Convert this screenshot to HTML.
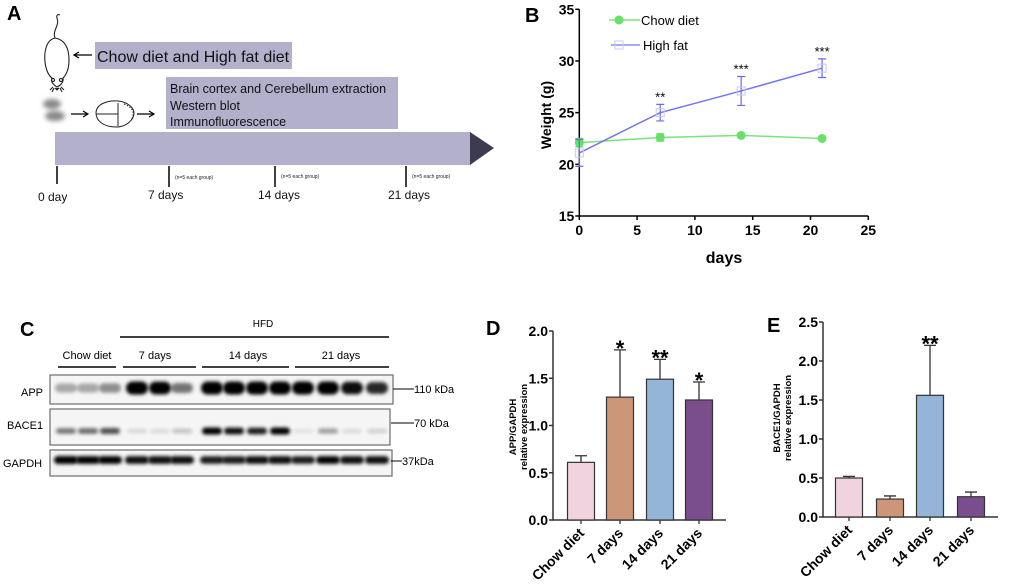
<!DOCTYPE html>
<html><head><meta charset="utf-8">
<style>
html,body{margin:0;padding:0;background:#fff;}
svg{display:block;font-family:"Liberation Sans",Arial,sans-serif;}
</style></head>
<body>
<svg id="fig" width="1020" height="586" viewBox="0 0 1020 586" xmlns="http://www.w3.org/2000/svg">
<defs>
<filter id="blur1" x="-50%" y="-80%" width="200%" height="260%"><feGaussianBlur stdDeviation="1.8"/></filter>
<filter id="blur2" x="-50%" y="-50%" width="200%" height="200%"><feGaussianBlur stdDeviation="2.5"/></filter>
</defs>

<!-- PANEL A -->
<g id="panelA">
<text x="7" y="20" font-size="20" font-weight="bold">A</text>
<g fill="none" stroke="#222" stroke-width="1.1">
<path d="M55,38 C52,30 60,26 57,18 C56,15 58,14 60,15"/>
<path d="M55,38 C46,40 44,52 45,62 C46,70 48,75 52,78 C50,82 55,86 57,87 C60,86 64,82 63,78 C67,74 69,68 69,60 C69,50 66,40 55,38Z"/>
<circle cx="53" cy="80" r="1.5"/><circle cx="61" cy="80" r="1.5"/>
<path d="M55,88 l2,2 l2,-2" fill="#222"/>
<path d="M53,87 l-3,3 M61,87 l3,3 M54,88 l-2,4 M60,88 l2,4"/>
</g>
<path d="M92,55 H75 M79,52 L74,55 L79,58" stroke="#000" stroke-width="1.3" fill="none"/>
<rect x="95" y="42" width="197" height="27" fill="#b3b0cc"/>
<text x="97" y="62" font-size="16" fill="#111">Chow diet and High fat  diet</text>
<g fill="#888" filter="url(#blur2)">
<ellipse cx="52" cy="104" rx="9" ry="5"/><ellipse cx="55" cy="116" rx="10" ry="5"/>
</g>
<path d="M71,114 H87 M83,111 L88,114 L83,117" stroke="#000" stroke-width="1.2" fill="none"/>
<g fill="none" stroke="#222" stroke-width="1">
<path d="M96,113 C96,104 108,100 118,101 C128,102 134,108 134,113 C134,120 126,127 116,127 C104,127 96,121 96,113Z"/>
<path d="M96,114 H118 M118,103 V126"/>
<path d="M124,104 C132,107 136,112 131,120" stroke-dasharray="1.5 1.5"/>
</g>
<path d="M137,114 H153 M149,111 L154,114 L149,117" stroke="#000" stroke-width="1.2" fill="none"/>
<rect x="166" y="77" width="232" height="52" fill="#b3b0cc"/>
<text x="170" y="93" font-size="12.5" fill="#111">Brain cortex and Cerebellum extraction</text>
<text x="170" y="110" font-size="12.5" fill="#111">Western blot</text>
<text x="170" y="126" font-size="12.5" fill="#111">Immunofluorescence</text>
<rect x="55" y="132" width="416" height="33" fill="#b3b0cc"/>
<polygon points="470,132 494,148 470,165" fill="#3d3b50"/>
<g stroke="#000" stroke-width="1.5">
<line x1="57" y1="166" x2="57" y2="184"/><line x1="169" y1="166" x2="169" y2="187"/>
<line x1="275" y1="166" x2="275" y2="187"/><line x1="406" y1="166" x2="406" y2="187"/>
</g>
<g font-size="5" fill="#222">
<text x="175" y="179">(n=5 each group)</text><text x="281" y="178">(n=5 each group)</text><text x="412" y="178">(n=5 each group)</text>
</g>
<g font-size="12" fill="#111">
<text x="38" y="201">0 day</text><text x="148" y="199">7 days</text><text x="258" y="199">14 days</text><text x="388" y="199">21 days</text>
</g>
</g>

<!-- PANEL B -->
<g id="panelB"></g>

<!-- PANEL C -->
<g id="panelC">
<text x="20" y="336" font-size="20" font-weight="bold">C</text>
<text x="263" y="327" font-size="10" text-anchor="middle">HFD</text>
<line x1="120" y1="337" x2="389" y2="337" stroke="#000" stroke-width="1.5"/>
<g font-size="11" text-anchor="middle">
<text x="87" y="359">Chow diet</text><text x="155" y="359">7 days</text><text x="248" y="359">14 days</text><text x="341" y="359">21 days</text>
</g>
<g stroke="#000" stroke-width="1.5">
<line x1="58" y1="367" x2="116" y2="367"/><line x1="123" y1="367" x2="196" y2="367"/>
<line x1="202" y1="367" x2="289" y2="367"/><line x1="295" y1="367" x2="389" y2="367"/>
</g>
<g id="blots"></g>
<g font-size="11">
<text x="21" y="396">APP</text><text x="7" y="429">BACE1</text><text x="3" y="467">GAPDH</text>
</g>
<g font-size="11">
<line x1="393" y1="389" x2="414" y2="389" stroke="#000"/><text x="414" y="393">110 kDa</text>
<line x1="391" y1="423" x2="414" y2="423" stroke="#000"/><text x="414" y="427">70 kDa</text>
<line x1="391" y1="461" x2="402" y2="461" stroke="#000"/><text x="402" y="465">37kDa</text>
</g>
</g>

<!-- PANEL D / E -->
<g id="panelD"></g>
<g id="panelE"></g>
</svg>

<script>
// ---- Panel B data ----
const bDays = [0, 7, 14, 21];
const bChow = [22.1, 22.6, 22.8, 22.5];
const bChowErr = [0.4, 0.35, 0.1, 0.1];
const bHigh = [21.1, 25.0, 27.1, 29.3];
const bHighErr = [1.3, 0.8, 1.4, 0.9];
const bSig = ["", "**", "***", "***"];
const bXTicks = [0, 5, 10, 15, 20, 25];
const bYTicks = [15, 20, 25, 30, 35];

// ---- Panel D data ----
const barCats = ["Chow diet", "7 days", "14 days", "21 days"];
const dValues = [0.61, 1.30, 1.49, 1.27];
const dErr = [0.07, 0.50, 0.21, 0.19];
const dSig = ["", "*", "**", "*"];
const dYTicks = [0.0, 0.5, 1.0, 1.5, 2.0];

// ---- Panel E data ----
const eValues = [0.50, 0.23, 1.56, 0.26];
const eErr = [0.02, 0.04, 0.64, 0.06];
const eSig = ["", "", "**", ""];
const eYTicks = [0.0, 0.5, 1.0, 1.5, 2.0, 2.5];

// ---- Panel C band intensities (0..1) ----
const appBands = [0.3, 0.3, 0.4, 1, 0.95, 0.5, 1, 1, 1, 1, 1, 1, 0.9, 0.8];
const baceBands = [0.5, 0.55, 0.65, 0.12, 0.1, 0.2, 1, 0.9, 0.85, 1, 0.08, 0.35, 0.1, 0.15];
const gapdhBands = [1, 0.95, 0.95, 0.9, 0.9, 0.9, 0.85, 0.85, 0.9, 0.9, 0.85, 0.95, 0.9, 0.9];

const NS = "http://www.w3.org/2000/svg";
function mk(parent, tag, attrs) {
  const e = document.createElementNS(NS, tag);
  for (const k in attrs) e.setAttribute(k, attrs[k]);
  parent.appendChild(e);
  return e;
}
function txt(parent, x, y, s, attrs) {
  const t = mk(parent, "text", Object.assign({x: x, y: y}, attrs || {}));
  t.textContent = s;
  return t;
}

// ===== Panel B =====
(function () {
  const g = document.getElementById("panelB");
  const x0 = 579.3, x1 = 868.3, y0 = 216, y1 = 9.3;
  const sx = v => x0 + (v - 0) / 25 * (x1 - x0);
  const sy = v => y0 - (v - 15) / 20 * (y0 - y1);
  const lbl = txt(g, 525, 22, "B", {"font-size": 20, "font-weight": "bold"});
  
  
  const ax = mk(g, "path", {d: `M${x0},${y1} V${y0} H${x1}`, stroke: "#000", "stroke-width": 1.5, fill: "none"});
  
  
  bYTicks.forEach(v => {
    mk(g, "line", {x1: x0 - 4, x2: x0, y1: sy(v), y2: sy(v), stroke: "#000", "stroke-width": 1.5});
    const t = txt(g, x0 - 5, sy(v) + 5, String(v), {"font-size": 14, "font-weight": "bold", "text-anchor": "end"});
    
    
  });
  bXTicks.forEach(v => {
    mk(g, "line", {x1: sx(v), x2: sx(v), y1: y0, y2: y0 + 4, stroke: "#000", "stroke-width": 1.5});
    const t = txt(g, sx(v), y0 + 19, String(v), {"font-size": 14, "font-weight": "bold", "text-anchor": "middle"});
    
    
  });
  const xt = txt(g, 724, 263, "days", {"font-size": 16, "font-weight": "bold", "text-anchor": "middle"});
  
  
  const yt = txt(g, 0, 0, "Weight (g)", {"font-size": 14, "font-weight": "bold", "text-anchor": "middle", transform: "translate(551,115) rotate(-90)"});
  
  
  const cl = mk(g, "polyline", {points: bDays.map((d, i) => sx(d) + "," + sy(bChow[i])).join(" "), fill: "none", stroke: "#7ee27e", "stroke-width": 1.5});
  
  
  bDays.forEach((d, i) => {
    mk(g, "path", {d: `M${sx(d)},${sy(bChow[i] - bChowErr[i])} V${sy(bChow[i] + bChowErr[i])} M${sx(d) - 4},${sy(bChow[i] - bChowErr[i])} h8 M${sx(d) - 4},${sy(bChow[i] + bChowErr[i])} h8`, stroke: "#4fd64f", "stroke-width": 1.2});
    const c = mk(g, "circle", {cx: sx(d), cy: sy(bChow[i]), r: 4.5, fill: "#67e067"});
    
    
  });
  const hl = mk(g, "polyline", {points: bDays.map((d, i) => sx(d) + "," + sy(bHigh[i])).join(" "), fill: "none", stroke: "#7474f0", "stroke-width": 1.5});
  
  
  bDays.forEach((d, i) => {
    mk(g, "path", {d: `M${sx(d)},${sy(bHigh[i] - bHighErr[i])} V${sy(bHigh[i] + bHighErr[i])} M${sx(d) - 4},${sy(bHigh[i] - bHighErr[i])} h8 M${sx(d) - 4},${sy(bHigh[i] + bHighErr[i])} h8`, stroke: "#6a6aee", "stroke-width": 1.2});
    const p = mk(g, "rect", {x: sx(d) - 4, y: sy(bHigh[i]) - 4, width: 8, height: 8, fill: "none", stroke: "#c8c8f5", "stroke-width": 1});
    
    
    if (bSig[i]) {
      const s = txt(g, sx(d), sy(bHigh[i] + bHighErr[i]) - 3, bSig[i], {"font-size": 13, "text-anchor": "middle"});
      
      
    }
  });
  const l1 = mk(g, "g", {});
  
  
  mk(l1, "line", {x1: 609, x2: 640, y1: 20, y2: 20, stroke: "#7ee27e", "stroke-width": 1.5});
  mk(l1, "circle", {cx: 619, cy: 20, r: 4.5, fill: "#67e067"});
  txt(l1, 641, 25, "Chow diet", {"font-size": 13});
  const l2 = mk(g, "g", {});
  
  
  mk(l2, "line", {x1: 611, x2: 640, y1: 45, y2: 45, stroke: "#7474f0", "stroke-width": 1.2});
  mk(l2, "rect", {x: 615, y: 41, width: 8, height: 8, fill: "none", stroke: "#c8c8f5"});
  txt(l2, 643, 50, "High fat", {"font-size": 13});
})();

// ===== Panel C blots =====
(function () {
  const g = document.getElementById("blots");
  const lanes = [66, 88, 110, 137, 160, 182, 212, 234, 257, 280, 303, 328, 352, 377];
  const rows = [
    {name: "app-blot", bands: appBands, box: [50, 375, 343, 29], cy: 388, w: 22, h: 13},
    {name: "bace1-blot", bands: baceBands, box: [50, 409, 340, 36], cy: 431, w: 20, h: 7},
    {name: "gapdh-blot", bands: gapdhBands, box: [50, 450, 342, 26], cy: 460, w: 24, h: 8}
  ];
  rows.forEach(r => {
    const rg = mk(g, "g", {});
    
    
    mk(rg, "rect", {x: r.box[0], y: r.box[1], width: r.box[2], height: r.box[3], fill: "#f5f5f5", stroke: "#777", "stroke-width": 1.3});
    r.bands.forEach((v, i) => {
      const hh = r.h * (0.55 + 0.45 * v);
      const b = mk(rg, "rect", {x: lanes[i] - r.w / 2, y: r.cy - hh / 2, width: r.w, height: hh, rx: hh / 2, fill: "#000", opacity: Math.min(1, v * 1.05), filter: "url(#blur1)"});
      
      
    });
  });
})();

// ===== Bar charts =====
const barColors = ["#f0d3de", "#cd9678", "#94b4d8", "#7a4e8c"];
function barChart(gid, letter, lx, ly, axX, axEnd, y0, yTop, maxV, ticks, values, errs, sig, centers, titleX, titleY, title1) {
  const g = document.getElementById(gid);
  const sy = v => y0 - v / maxV * (y0 - yTop);
  const L = txt(g, lx, ly, letter, {"font-size": 20, "font-weight": "bold"});
  
  
  const ax = mk(g, "path", {d: `M${axX},${yTop} V${y0} H${axEnd}`, stroke: "#333", "stroke-width": 1.5, fill: "none"});
  
  
  ticks.forEach(v => {
    mk(g, "line", {x1: axX - 4, x2: axX, y1: sy(v), y2: sy(v), stroke: "#333", "stroke-width": 1.5});
    const t = txt(g, axX - 5, sy(v) + 5, v.toFixed(1), {"font-size": 14, "font-weight": "bold", "text-anchor": "end"});
    
    
  });
  values.forEach((v, i) => {
    const cx = centers[i];
    mk(g, "path", {d: `M${cx},${sy(v)} V${sy(v + errs[i])} M${cx - 6},${sy(v + errs[i])} h12`, stroke: "#333", "stroke-width": 1.3});
    const b = mk(g, "rect", {x: cx - 13.5, y: sy(v), width: 27, height: y0 - sy(v), fill: barColors[i], stroke: "#333", "stroke-width": 1.2});
    
    
    mk(g, "line", {x1: cx, x2: cx, y1: y0, y2: y0 + 4, stroke: "#333", "stroke-width": 1.3});
    if (sig[i]) {
      const s = txt(g, cx, sy(v + errs[i]) + 6, sig[i], {"font-size": 22, "font-weight": "bold", "text-anchor": "middle"});
      
      
    }
    const xl = txt(g, 0, 0, barCats[i], {"font-size": 14, "font-weight": "bold", "text-anchor": "end", transform: `translate(${cx + 4},${y0 + 14}) rotate(-45)`});
    
    
  });
  const t1 = txt(g, 0, 0, title1, {"font-size": 9.5, "font-weight": "bold", "text-anchor": "middle", transform: `translate(${titleX},${titleY}) rotate(-90)`});
  
  
  const t2 = txt(g, 0, 0, "relative expression", {"font-size": 9.5, "font-weight": "bold", "text-anchor": "middle", transform: `translate(${titleX + 11},${titleY}) rotate(-90)`});
  
  
}
barChart("panelD", "D", 486, 335, 553, 726, 520, 331, 2.0, dYTicks, dValues, dErr, dSig, [581, 620, 660, 699], 516, 427, "APP/GAPDH");
barChart("panelE", "E", 767, 332, 823, 998, 517, 322, 2.5, eYTicks, eValues, eErr, eSig, [849, 890, 930, 971], 780, 418, "BACE1/GAPDH");
</script>
</body></html>
